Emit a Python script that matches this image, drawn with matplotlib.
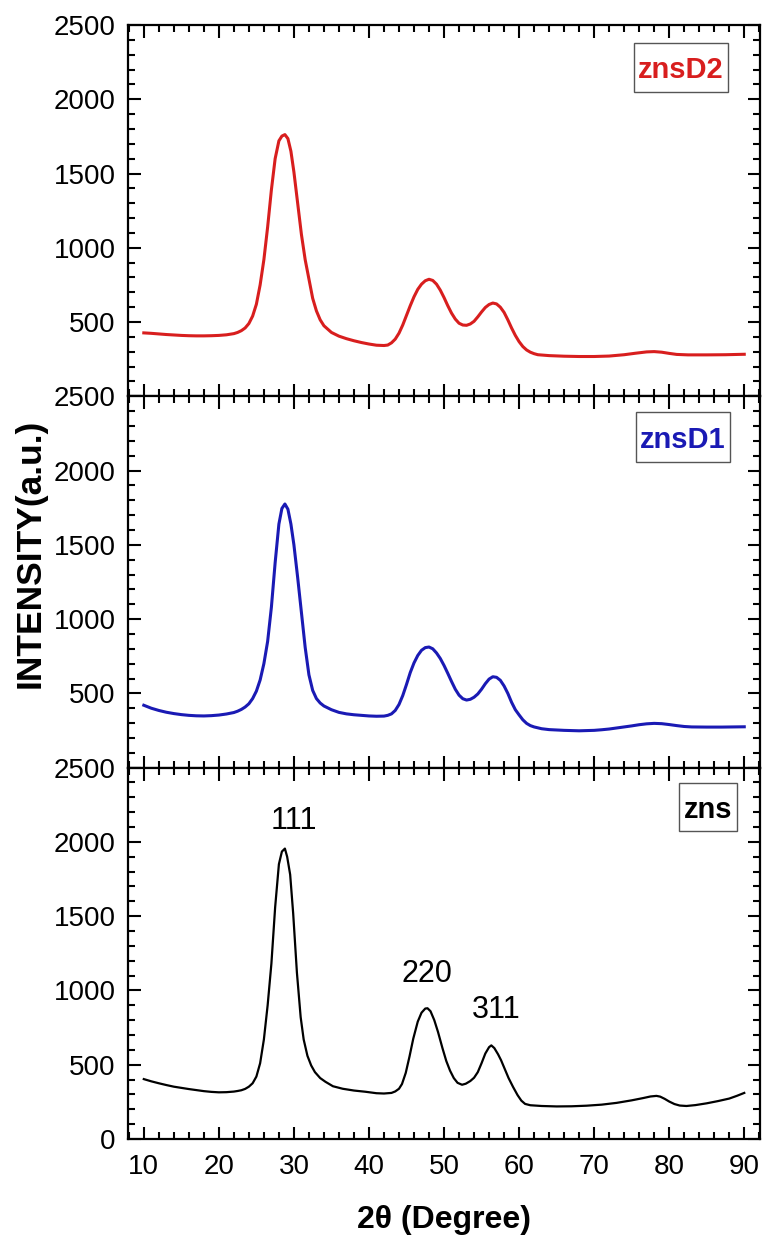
import matplotlib
matplotlib.use("Agg")
import matplotlib.pyplot as plt
from matplotlib.patches import Rectangle
from matplotlib.ticker import MultipleLocator

# 2-theta / intensity
x_d2 = [10, 11, 12, 13, 14, 15, 16, 17, 18, 19, 20, 21, 22, 22.5, 23, 23.5, 24, 24.5, 25, 25.5,
        26, 26.5, 27, 27.5, 28, 28.4, 28.8, 29.2, 29.6, 30, 30.5, 31, 31.5, 32, 32.5, 33, 33.5, 34,
        35, 36, 37, 38, 39, 40, 41, 42, 42.5, 43, 43.5, 44, 44.5, 45, 45.5, 46, 46.5, 47, 47.5, 48,
        48.5, 49, 49.5, 50, 50.5, 51, 51.5, 52, 52.5, 53, 53.5, 54, 54.5, 55, 55.5, 56, 56.5, 57,
        57.5, 58, 58.5, 59, 59.5, 60, 60.5, 61, 61.5, 62, 62.5, 64, 66, 68, 70, 72, 74, 75.5, 77,
        78, 79, 80, 81, 82.5, 85, 87.5, 90]
y_d2 = [427, 424, 420, 416, 413, 410, 408, 407, 407, 408, 410, 414, 422, 430, 442, 460, 490, 540,
        620, 750, 920, 1140, 1390, 1600, 1720, 1752, 1762, 1735, 1650, 1510, 1300, 1090, 920, 790,
        660, 575, 515, 475, 430, 405, 388, 374, 362, 352, 344, 342, 345, 360, 385, 425, 480, 545,
        610, 670, 720, 755, 778, 788, 780, 755, 715, 665, 610, 560, 520, 492, 480, 478, 487, 505,
        535, 568, 598, 618, 628, 622, 600, 565, 515, 460, 410, 368, 335, 312, 297, 287, 280, 274,
        270, 268, 268, 271, 280, 290, 299, 301, 297, 289, 282, 279, 279, 280, 283]

x_d1 = [10, 11, 12, 13, 14, 15, 16, 17, 18, 19, 20, 21, 22, 22.5, 23, 23.5, 24, 24.5, 25, 25.5,
        26, 26.5, 27, 27.5, 28, 28.4, 28.8, 29.2, 29.6, 30, 30.5, 31, 31.5, 32, 32.5, 33, 33.5, 34,
        35, 36, 37, 38, 39, 40, 41, 42, 42.5, 43, 43.5, 44, 44.5, 45, 45.5, 46, 46.5, 47, 47.5, 48,
        48.5, 49, 49.5, 50, 50.5, 51, 51.5, 52, 52.5, 53, 53.5, 54, 54.5, 55, 55.5, 56, 56.5, 57,
        57.5, 58, 58.5, 59, 59.5, 60, 60.5, 61, 61.5, 62, 63, 64, 66, 68, 70, 71, 72, 73, 74, 75,
        76, 77, 78, 79, 80, 81, 82, 83, 85, 87, 90]
y_d1 = [420, 400, 385, 373, 364, 357, 352, 349, 348, 350, 354, 361, 371, 380, 392, 408, 430, 465,
        515, 590, 700, 850, 1080, 1380, 1640, 1745, 1775, 1740, 1640, 1500, 1280, 1045, 810, 625,
        520, 465, 435, 415, 390, 372, 362, 356, 352, 348, 346, 347, 352, 362, 385, 425, 485, 560,
        640, 705, 755, 790, 808, 812, 800, 772, 735, 688, 635, 580, 528, 488, 464, 455, 460, 474,
        496, 528, 565, 596, 612, 608, 588, 550, 500, 440, 390, 355, 322, 298, 283, 274, 262, 256,
        251, 248, 251, 255, 260, 267, 274, 281, 289, 295, 298, 296, 290, 283, 277, 274, 273, 273, 275]

x_zns = [10, 11, 12, 13, 14, 15, 16, 17, 18, 19, 20, 21, 22, 22.5, 23, 23.5, 24, 24.5, 25, 25.5,
         26, 26.5, 27, 27.5, 28, 28.4, 28.8, 29.1, 29.5, 29.9, 30.4, 30.9, 31.3, 31.8, 32.3, 32.8,
         33.5, 34.2, 35.2, 36.5, 38, 39.5, 41, 42, 43, 43.5, 44, 44.4, 44.9, 45.4, 45.9, 46.5, 47,
         47.5, 47.8, 48.2, 48.7, 49.2, 49.8, 50.3, 50.8, 51.3, 51.8, 52.4, 52.9, 53.5, 54, 54.5, 55,
         55.5, 56, 56.3, 56.7, 57.2, 57.6, 58.1, 58.6, 59.2, 59.8, 60.3, 60.8, 61.5, 63, 65, 67, 69,
         71, 73, 75, 76.5, 77.5, 78.3, 78.8, 79.4, 80, 80.7, 81.4, 82.3, 83.5, 85, 86.5, 88, 89, 90]
y_zns = [403, 388, 375, 363, 352, 344, 336, 329, 322, 317, 314, 315, 319, 323, 328, 337, 352, 375,
         420, 510, 670, 900, 1180, 1560, 1850, 1935, 1955, 1900, 1780, 1520, 1120, 820, 670, 560,
         495, 450, 410, 385, 355, 338, 326, 318, 308, 306, 310, 320, 338, 370, 445, 555, 675, 790,
         850, 878, 880, 860, 800, 720, 610, 525, 460, 410, 378, 365, 372, 390, 412, 450, 510, 575,
         618, 630, 612, 570, 530, 470, 410, 350, 295, 258, 236, 227, 222, 219, 220, 224, 231, 243,
         260, 275, 286, 290, 285, 270, 252, 235, 225, 222, 228, 240, 255, 272, 290, 310]

names = ["znsD2", "znsD1", "zns"]
colors = ["#d81e1e", "#1a1ab4", "black"]
peaks = ["111", "220", "311"]
peak_x = [30, 47.7, 57]
peak_y = [2140, 1110, 870]

plt.rcParams["font.family"] = ["Liberation Sans", "DejaVu Sans"]

fig, axes = plt.subplots(3, 1, figsize=(7.63, 12.43), dpi=100, sharex=True)
fig.subplots_adjust(left=0.1678, right=0.9961, top=0.9799, bottom=0.0837, hspace=0)

series = [(x_d2, y_d2), (x_d1, y_d1), (x_zns, y_zns)]
# label boxes in axes fraction: x0, x1, y0, y1
boxes = [(0.8006, 0.9494, 0.8199, 0.9516),
         (0.8038, 0.9525, 0.8221, 0.9569),
         (0.8718, 0.9636, 0.8302, 0.9596)]

for i, ax in enumerate(axes):
    xs, ys = series[i]
    lw = 2.2 if i < 2 else 1.6
    ax.plot(xs, ys, color=colors[i], lw=lw)
    ax.set_xlim(7.9, 92.1)
    ax.set_ylim(0, 2500)
    ax.xaxis.set_major_locator(MultipleLocator(10))
    ax.xaxis.set_minor_locator(MultipleLocator(2))
    ax.yaxis.set_minor_locator(MultipleLocator(100))
    ax.tick_params(which="both", direction="in", top=True, right=True, width=1.5)
    ax.tick_params(which="major", length=9)
    ax.tick_params(which="minor", length=5)
    ax.tick_params(axis="y", pad=9)
    ax.tick_params(axis="x", pad=11)
    for s in ax.spines.values():
        s.set_linewidth(1.6)
    ticks = [0, 500, 1000, 1500, 2000, 2500]
    ax.set_yticks(ticks)
    labels = [str(t) for t in ticks]
    if i < 2:
        labels[0] = ""
    ax.set_yticklabels(labels, fontsize=20)

    x0, x1, y0, y1 = boxes[i]
    ax.add_patch(Rectangle((x0, y0), x1 - x0, y1 - y0, transform=ax.transAxes,
                           fc="white", ec="#555555", lw=1.0, zorder=3))
    ax.text((x0 + x1) / 2, (y0 + y1) / 2, names[i], transform=ax.transAxes,
            ha="center", va="center_baseline", fontsize=21, fontweight="bold",
            color=colors[i], zorder=4)

for lab, px, py in zip(peaks, peak_x, peak_y):
    axes[2].text(px, py, lab, ha="center", va="center", fontsize=22)

axes[2].set_xticks(range(10, 91, 10))
axes[2].set_xticklabels([str(v) for v in range(10, 91, 10)], fontsize=20)

fig.text(444 / 763, 1 - 1220 / 1243, "2θ (Degree)", ha="center", va="center",
         fontsize=23, fontweight="bold")
fig.text(30 / 763, 1 - 553 / 1243, "INTENSITY(a.u.)", ha="center", va="center",
         rotation=90, fontsize=25.5, fontweight="bold")

fig.savefig("out.png", dpi=100)
